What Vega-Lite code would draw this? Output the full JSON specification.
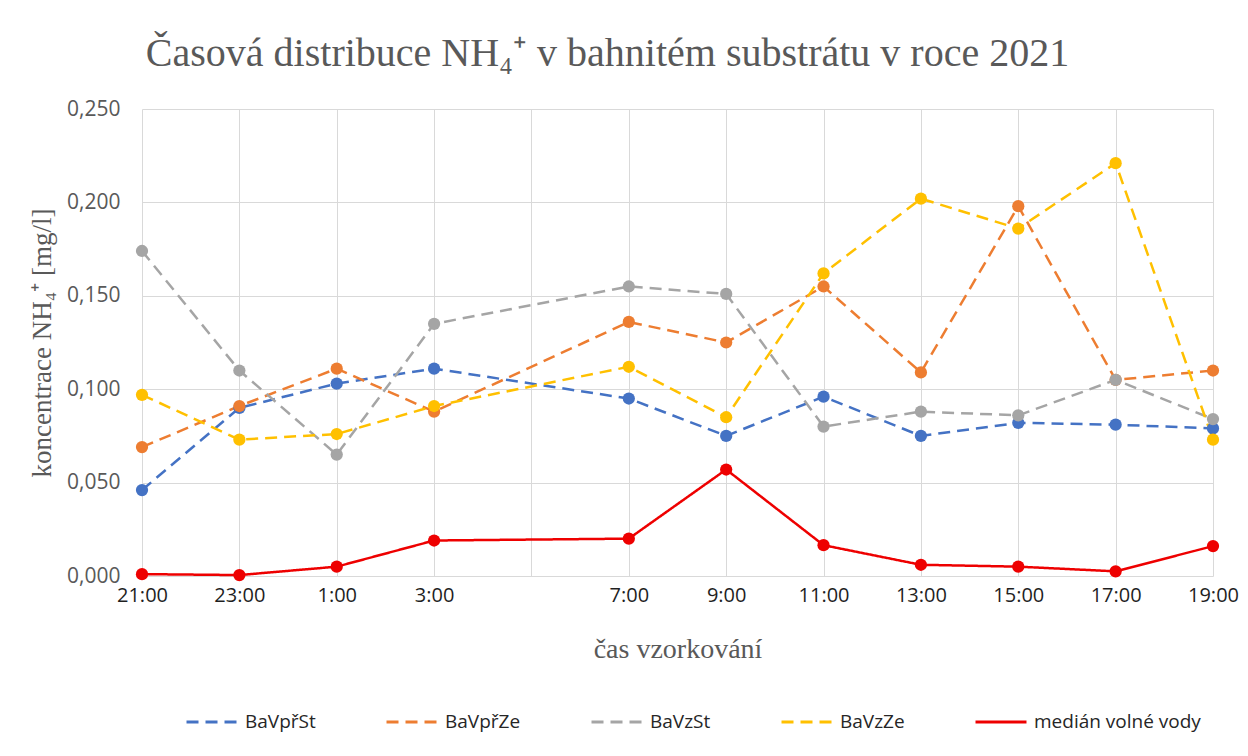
{
  "$schema": "https://vega.github.io/schema/vega-lite/v6.json",
  "width": 1071,
  "height": 467,
  "autosize": {"type": "none"},
  "padding": {"left": 142, "top": 109, "right": 35, "bottom": 180},
  "background": "white",
  "title": {
    "text": "Časová distribuce NH₄⁺ v bahnitém substrátu v roce 2021",
    "font": "Liberation Serif",
    "fontSize": 40,
    "fontWeight": "normal",
    "color": "#595959",
    "anchor": "middle",
    "dx": -70,
    "offset": 24
  },
  "config": {
    "view": {"stroke": null},
    "axis": {
      "gridColor": "#D9D9D9",
      "gridWidth": 1,
      "domain": false,
      "ticks": false
    }
  },
  "data": {
    "values": [
      {"cas": "2021-06-01T21:00", "rada": "BaVpřSt", "hodnota": 0.046},
      {"cas": "2021-06-01T23:00", "rada": "BaVpřSt", "hodnota": 0.090},
      {"cas": "2021-06-02T01:00", "rada": "BaVpřSt", "hodnota": 0.103},
      {"cas": "2021-06-02T03:00", "rada": "BaVpřSt", "hodnota": 0.111},
      {"cas": "2021-06-02T07:00", "rada": "BaVpřSt", "hodnota": 0.095},
      {"cas": "2021-06-02T09:00", "rada": "BaVpřSt", "hodnota": 0.075},
      {"cas": "2021-06-02T11:00", "rada": "BaVpřSt", "hodnota": 0.096},
      {"cas": "2021-06-02T13:00", "rada": "BaVpřSt", "hodnota": 0.075},
      {"cas": "2021-06-02T15:00", "rada": "BaVpřSt", "hodnota": 0.082},
      {"cas": "2021-06-02T17:00", "rada": "BaVpřSt", "hodnota": 0.081},
      {"cas": "2021-06-02T19:00", "rada": "BaVpřSt", "hodnota": 0.079},

      {"cas": "2021-06-01T21:00", "rada": "BaVpřZe", "hodnota": 0.069},
      {"cas": "2021-06-01T23:00", "rada": "BaVpřZe", "hodnota": 0.091},
      {"cas": "2021-06-02T01:00", "rada": "BaVpřZe", "hodnota": 0.111},
      {"cas": "2021-06-02T03:00", "rada": "BaVpřZe", "hodnota": 0.088},
      {"cas": "2021-06-02T07:00", "rada": "BaVpřZe", "hodnota": 0.136},
      {"cas": "2021-06-02T09:00", "rada": "BaVpřZe", "hodnota": 0.125},
      {"cas": "2021-06-02T11:00", "rada": "BaVpřZe", "hodnota": 0.155},
      {"cas": "2021-06-02T13:00", "rada": "BaVpřZe", "hodnota": 0.109},
      {"cas": "2021-06-02T15:00", "rada": "BaVpřZe", "hodnota": 0.198},
      {"cas": "2021-06-02T17:00", "rada": "BaVpřZe", "hodnota": 0.105},
      {"cas": "2021-06-02T19:00", "rada": "BaVpřZe", "hodnota": 0.110},

      {"cas": "2021-06-01T21:00", "rada": "BaVzSt", "hodnota": 0.174},
      {"cas": "2021-06-01T23:00", "rada": "BaVzSt", "hodnota": 0.110},
      {"cas": "2021-06-02T01:00", "rada": "BaVzSt", "hodnota": 0.065},
      {"cas": "2021-06-02T03:00", "rada": "BaVzSt", "hodnota": 0.135},
      {"cas": "2021-06-02T07:00", "rada": "BaVzSt", "hodnota": 0.155},
      {"cas": "2021-06-02T09:00", "rada": "BaVzSt", "hodnota": 0.151},
      {"cas": "2021-06-02T11:00", "rada": "BaVzSt", "hodnota": 0.080},
      {"cas": "2021-06-02T13:00", "rada": "BaVzSt", "hodnota": 0.088},
      {"cas": "2021-06-02T15:00", "rada": "BaVzSt", "hodnota": 0.086},
      {"cas": "2021-06-02T17:00", "rada": "BaVzSt", "hodnota": 0.105},
      {"cas": "2021-06-02T19:00", "rada": "BaVzSt", "hodnota": 0.084},

      {"cas": "2021-06-01T21:00", "rada": "BaVzZe", "hodnota": 0.097},
      {"cas": "2021-06-01T23:00", "rada": "BaVzZe", "hodnota": 0.073},
      {"cas": "2021-06-02T01:00", "rada": "BaVzZe", "hodnota": 0.076},
      {"cas": "2021-06-02T03:00", "rada": "BaVzZe", "hodnota": 0.091},
      {"cas": "2021-06-02T07:00", "rada": "BaVzZe", "hodnota": 0.112},
      {"cas": "2021-06-02T09:00", "rada": "BaVzZe", "hodnota": 0.085},
      {"cas": "2021-06-02T11:00", "rada": "BaVzZe", "hodnota": 0.162},
      {"cas": "2021-06-02T13:00", "rada": "BaVzZe", "hodnota": 0.202},
      {"cas": "2021-06-02T15:00", "rada": "BaVzZe", "hodnota": 0.186},
      {"cas": "2021-06-02T17:00", "rada": "BaVzZe", "hodnota": 0.221},
      {"cas": "2021-06-02T19:00", "rada": "BaVzZe", "hodnota": 0.073},

      {"cas": "2021-06-01T21:00", "rada": "medián volné vody", "hodnota": 0.001},
      {"cas": "2021-06-01T23:00", "rada": "medián volné vody", "hodnota": 0.0005},
      {"cas": "2021-06-02T01:00", "rada": "medián volné vody", "hodnota": 0.005},
      {"cas": "2021-06-02T03:00", "rada": "medián volné vody", "hodnota": 0.019},
      {"cas": "2021-06-02T07:00", "rada": "medián volné vody", "hodnota": 0.020},
      {"cas": "2021-06-02T09:00", "rada": "medián volné vody", "hodnota": 0.057},
      {"cas": "2021-06-02T11:00", "rada": "medián volné vody", "hodnota": 0.0165},
      {"cas": "2021-06-02T13:00", "rada": "medián volné vody", "hodnota": 0.006},
      {"cas": "2021-06-02T15:00", "rada": "medián volné vody", "hodnota": 0.005},
      {"cas": "2021-06-02T17:00", "rada": "medián volné vody", "hodnota": 0.0025},
      {"cas": "2021-06-02T19:00", "rada": "medián volné vody", "hodnota": 0.016}
    ]
  },
  "encoding": {
    "x": {
      "field": "cas",
      "type": "temporal",
      "scale": {
        "domain": [
          {"year": 2021, "month": 6, "date": 1, "hours": 21},
          {"year": 2021, "month": 6, "date": 2, "hours": 19}
        ]
      },
      "axis": {
        "title": "čas vzorkování",
        "titleFont": "Liberation Serif",
        "titleFontSize": 28,
        "titleFontWeight": "normal",
        "titleColor": "#595959",
        "titlePadding": 30,
        "labelFont": "Open Sans",
        "labelFontSize": 20,
        "labelColor": "#1f1f1f",
        "labelPadding": 9,
        "labelFlush": false,
        "labelOverlap": false,
        "values": [
          {"year": 2021, "month": 6, "date": 1, "hours": 21},
          {"year": 2021, "month": 6, "date": 1, "hours": 23},
          {"year": 2021, "month": 6, "date": 2, "hours": 1},
          {"year": 2021, "month": 6, "date": 2, "hours": 3},
          {"year": 2021, "month": 6, "date": 2, "hours": 5},
          {"year": 2021, "month": 6, "date": 2, "hours": 7},
          {"year": 2021, "month": 6, "date": 2, "hours": 9},
          {"year": 2021, "month": 6, "date": 2, "hours": 11},
          {"year": 2021, "month": 6, "date": 2, "hours": 13},
          {"year": 2021, "month": 6, "date": 2, "hours": 15},
          {"year": 2021, "month": 6, "date": 2, "hours": 17},
          {"year": 2021, "month": 6, "date": 2, "hours": 19}
        ],
        "labelExpr": "hours(datum.value) == 5 ? '' : timeFormat(datum.value, '%-H:%M')"
      }
    },
    "y": {
      "field": "hodnota",
      "type": "quantitative",
      "scale": {"domain": [0, 0.25], "nice": false},
      "axis": {
        "title": "koncentrace NH₄⁺ [mg/l]",
        "titleFont": "Liberation Serif",
        "titleFontSize": 27,
        "titleFontWeight": "normal",
        "titleColor": "#595959",
        "titlePadding": 10,
        "labelFont": "Open Sans",
        "labelFontSize": 21,
        "labelColor": "#595959",
        "labelPadding": 22,
        "values": [0, 0.05, 0.1, 0.15, 0.2, 0.25],
        "labelExpr": "replace(format(datum.value, '.3f'), '.', ',')"
      }
    },
    "color": {
      "field": "rada",
      "type": "nominal",
      "scale": {
        "domain": ["BaVpřSt", "BaVpřZe", "BaVzSt", "BaVzZe", "medián volné vody"],
        "range": ["#4472C4", "#ED7D31", "#A5A5A5", "#FFC000", "#EE0000"]
      },
      "legend": {
        "title": null,
        "orient": "none",
        "legendX": 43,
        "legendY": 586,
        "direction": "horizontal",
        "columns": 5,
        "gridAlign": "each",
        "columnPadding": 64,
        "labelFont": "Open Sans",
        "labelFontSize": 19,
        "labelLimit": 400,
        "labelColor": "#262626",
        "labelOffset": 6,
        "symbolType": "stroke",
        "symbolSize": 2600,
        "symbolStrokeWidth": 3
      }
    }
  },
  "layer": [
    {
      "mark": {"type": "line", "strokeWidth": 2.5},
      "encoding": {
        "strokeDash": {
          "field": "rada",
          "type": "nominal",
          "scale": {
            "domain": ["BaVpřSt", "BaVpřZe", "BaVzSt", "BaVzZe", "medián volné vody"],
            "range": [[12, 7], [12, 7], [12, 7], [12, 7], [1, 0]]
          },
          "legend": {
            "title": null,
            "orient": "none",
            "legendX": 43,
            "legendY": 586,
            "direction": "horizontal",
            "columns": 5,
            "gridAlign": "each",
            "columnPadding": 64,
            "labelFont": "Open Sans",
            "labelFontSize": 19,
            "labelLimit": 400,
            "labelColor": "#262626",
            "labelOffset": 6,
            "symbolType": "stroke",
            "symbolSize": 2600,
            "symbolStrokeWidth": 3
          }
        }
      }
    },
    {
      "mark": {"type": "point", "filled": true, "opacity": 1, "size": 150, "shape": "circle"}
    }
  ]
}
